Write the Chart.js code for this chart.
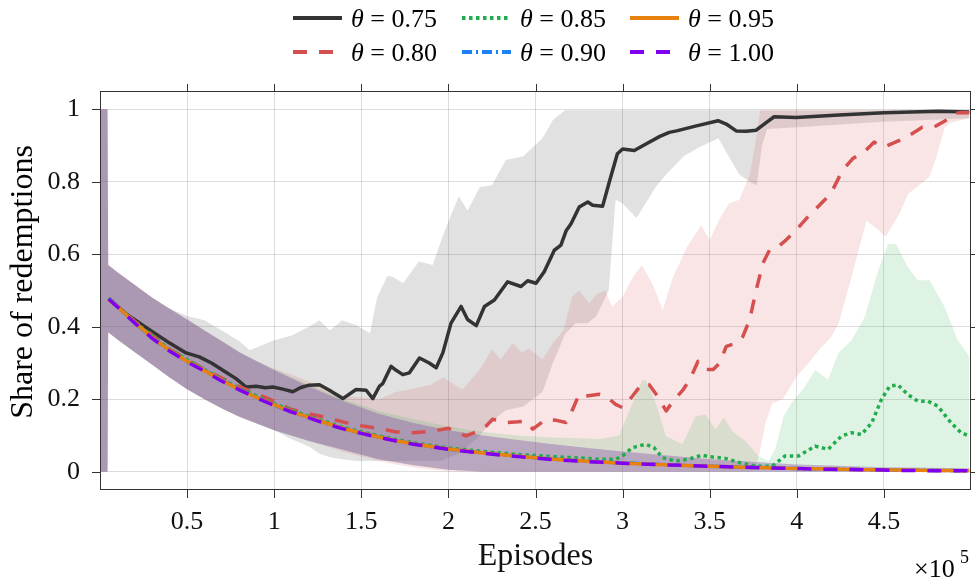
<!DOCTYPE html>
<html>
<head>
<meta charset="utf-8">
<script src="https://cdn.jsdelivr.net/npm/chart.js@4.4.1/dist/chart.umd.min.js"></script>
<style>
  html, body { margin: 0; padding: 0; background: #fff; }
  #wrap { width: 975px; height: 580px; }
</style>
</head>
<body>
<div id="wrap"><canvas id="chart" width="975" height="580"></canvas></div>
<script>
// x values are in units of 1e5 episodes (the axis carries the x10^5 factor)
const xTicks = [0.5, 1, 1.5, 2, 2.5, 3, 3.5, 4, 4.5];
const yTicks = [0, 0.2, 0.4, 0.6, 0.8, 1];

// mean curves
const ep075 = [0.05, 0.15, 0.275, 0.4, 0.494, 0.57, 0.64, 0.705, 0.781, 0.839, 0.897, 0.95, 0.992, 1.05, 1.107, 1.15, 1.2, 1.26, 1.317, 1.394,
  1.47, 1.528, 1.566, 1.604, 1.624, 1.671, 1.7, 1.738, 1.776, 1.834, 1.89, 1.93, 1.968, 2.015, 2.073, 2.11, 2.16, 2.207, 2.264, 2.34,
  2.417, 2.455, 2.503, 2.55, 2.608, 2.646, 2.676, 2.704, 2.751, 2.8, 2.828, 2.885, 2.924, 2.97, 3.0, 3.067, 3.134, 3.214, 3.268, 3.31,
  3.424, 3.548, 3.595, 3.652, 3.71, 3.767, 3.824, 3.87, 3.995, 4.243, 4.5, 4.814, 4.99];
const share075 = [0.478, 0.435, 0.395, 0.355, 0.328, 0.317, 0.3, 0.28, 0.257, 0.234, 0.236, 0.232, 0.234, 0.228, 0.221, 0.232, 0.239, 0.24, 0.225, 0.202,
  0.227, 0.225, 0.202, 0.236, 0.244, 0.291, 0.28, 0.268, 0.273, 0.314, 0.3, 0.287, 0.328, 0.41, 0.456, 0.42, 0.403, 0.456, 0.474, 0.524,
  0.511, 0.527, 0.52, 0.552, 0.611, 0.625, 0.665, 0.684, 0.73, 0.744, 0.735, 0.732, 0.8, 0.877, 0.89, 0.886, 0.904, 0.925, 0.936, 0.94,
  0.954, 0.968, 0.959, 0.94, 0.939, 0.942, 0.963, 0.979, 0.977, 0.984, 0.99, 0.994, 0.992];

const ep080 = [0.05, 0.2, 0.4, 0.6, 0.8, 1.0, 1.1, 1.2, 1.3, 1.4, 1.5, 1.6, 1.7, 1.8, 1.9, 2.0, 2.1, 2.2, 2.254, 2.33,
  2.4, 2.445, 2.484, 2.56, 2.62, 2.675, 2.713, 2.751, 2.79, 2.866, 2.904, 2.96, 3.0, 3.057, 3.115, 3.153, 3.2, 3.25, 3.29, 3.348,
  3.386, 3.433, 3.48, 3.52, 3.557, 3.595, 3.652, 3.69, 3.729, 3.767, 3.805, 3.843, 3.88, 3.938, 3.995, 4.071, 4.138, 4.195, 4.262, 4.32,
  4.395, 4.443, 4.5, 4.586, 4.643, 4.72, 4.786, 4.852, 4.9, 4.948, 4.99];
const share080 = [0.478, 0.415, 0.338, 0.282, 0.235, 0.195, 0.172, 0.16, 0.15, 0.137, 0.127, 0.12, 0.11, 0.108, 0.112, 0.12, 0.099, 0.118, 0.145, 0.136,
  0.138, 0.14, 0.118, 0.145, 0.142, 0.136, 0.172, 0.214, 0.209, 0.214, 0.209, 0.186, 0.177, 0.209, 0.245, 0.24, 0.209, 0.168, 0.195, 0.227,
  0.254, 0.305, 0.282, 0.282, 0.3, 0.346, 0.355, 0.373, 0.419, 0.501, 0.575, 0.611, 0.616, 0.639, 0.666, 0.707, 0.739, 0.767, 0.831, 0.863,
  0.886, 0.909, 0.895, 0.913, 0.927, 0.95, 0.95, 0.968, 0.988, 0.991, 0.99];

const ep085 = [0.05, 0.2, 0.4, 0.6, 0.8, 1.0, 1.2, 1.4, 1.6, 1.8, 2.0, 2.2, 2.4, 2.6, 2.8, 2.867, 2.962, 3.0, 3.057, 3.133,
  3.18, 3.229, 3.305, 3.38, 3.457, 3.495, 3.59, 3.667, 3.762, 3.857, 3.933, 4.01, 4.105, 4.18, 4.257, 4.314, 4.371, 4.43, 4.486, 4.533,
  4.58, 4.638, 4.695, 4.752, 4.81, 4.886, 4.943, 4.99];
const share085 = [0.478, 0.413, 0.337, 0.282, 0.23, 0.188, 0.153, 0.122, 0.099, 0.08, 0.066, 0.056, 0.048, 0.042, 0.037, 0.035, 0.035, 0.044, 0.067, 0.076,
  0.067, 0.039, 0.03, 0.035, 0.046, 0.042, 0.037, 0.026, 0.016, 0.015, 0.044, 0.044, 0.071, 0.062, 0.099, 0.108, 0.103, 0.135, 0.2, 0.236,
  0.24, 0.213, 0.195, 0.195, 0.181, 0.135, 0.108, 0.099];

const epLate = [0.05, 0.1, 0.2, 0.3, 0.4, 0.5, 0.6, 0.7, 0.8, 0.9, 1.0, 1.1, 1.2, 1.3, 1.4, 1.5, 1.6, 1.7, 1.8, 1.9,
  2.0, 2.2, 2.4, 2.6, 2.8, 3.0, 3.2, 3.4, 3.6, 3.8, 4.0, 4.2, 4.4, 4.6, 4.8, 4.99];
const share090 = [0.477, 0.457, 0.411, 0.369, 0.334, 0.304, 0.28, 0.252, 0.228, 0.205, 0.184, 0.166, 0.15, 0.133, 0.119, 0.107, 0.096, 0.086, 0.077, 0.07,
  0.063, 0.052, 0.043, 0.035, 0.029, 0.025, 0.021, 0.017, 0.014, 0.012, 0.009, 0.008, 0.006, 0.005, 0.004, 0.003];
const share095 = [0.474, 0.456, 0.412, 0.37, 0.335, 0.305, 0.279, 0.252, 0.227, 0.205, 0.185, 0.166, 0.15, 0.134, 0.119, 0.107, 0.096, 0.086, 0.077, 0.07,
  0.063, 0.052, 0.043, 0.035, 0.029, 0.024, 0.02, 0.017, 0.014, 0.011, 0.009, 0.008, 0.006, 0.005, 0.004, 0.003];
const share100 = [0.476, 0.455, 0.41, 0.368, 0.333, 0.303, 0.278, 0.25, 0.226, 0.204, 0.183, 0.165, 0.149, 0.132, 0.118, 0.106, 0.095, 0.085, 0.076, 0.069,
  0.062, 0.051, 0.042, 0.034, 0.028, 0.024, 0.02, 0.017, 0.014, 0.011, 0.009, 0.007, 0.006, 0.004, 0.003, 0.003];

// shaded spread around each mean
const band075X = [0, 0.043, 0.047, 0.1, 0.2, 0.3, 0.4, 0.5, 0.6, 0.7, 0.8, 0.86, 0.93, 1.0, 1.1, 1.2, 1.26, 1.32, 1.39, 1.47,
  1.55, 1.59, 1.65, 1.68, 1.74, 1.83, 1.91, 1.96, 2.0, 2.06, 2.11, 2.18, 2.25, 2.33, 2.43, 2.54, 2.6, 2.67, 2.73, 2.8,
  2.85, 2.92, 2.96, 3.0, 3.08, 3.19, 3.25, 3.35, 3.44, 3.55, 3.6, 3.67, 3.73, 3.77, 3.8, 3.83, 4.0, 4.5, 4.99];
const band075Hi = [1, 1, 0.57, 0.55, 0.515, 0.48, 0.45, 0.43, 0.418, 0.39, 0.36, 0.335, 0.349, 0.363, 0.376, 0.4, 0.418, 0.39, 0.418, 0.405,
  0.382, 0.48, 0.54, 0.538, 0.52, 0.58, 0.57, 0.64, 0.69, 0.76, 0.72, 0.785, 0.79, 0.86, 0.87, 0.92, 0.97, 0.997, 0.997, 0.997,
  0.997, 0.997, 0.997, 0.997, 0.997, 0.997, 0.997, 0.997, 0.997, 0.997, 0.997, 0.997, 0.997, 0.997, 0.997, 0.997, 0.997, 0.997, 0.997];
const band075Lo = [0, 0, 0.385, 0.365, 0.33, 0.295, 0.26, 0.228, 0.2, 0.175, 0.152, 0.14, 0.128, 0.115, 0.09, 0.07, 0.05, 0.04, 0.035, 0.03,
  0.03, 0.03, 0.03, 0.03, 0.03, 0.03, 0.03, 0.03, 0.04, 0.05, 0.07, 0.1, 0.14, 0.17, 0.18, 0.22, 0.3, 0.38, 0.41, 0.41,
  0.43, 0.5, 0.75, 0.74, 0.7, 0.785, 0.82, 0.87, 0.895, 0.92, 0.877, 0.82, 0.8, 0.79, 0.9, 0.945, 0.95, 0.965, 0.975];

const band080X = [0, 0.043, 0.047, 0.1, 0.2, 0.3, 0.4, 0.5, 0.6, 0.7, 0.8, 0.9, 1.0, 1.2, 1.4, 1.6, 1.7, 1.8, 1.9, 1.97,
  2.08, 2.18, 2.25, 2.3, 2.37, 2.42, 2.46, 2.54, 2.6, 2.66, 2.71, 2.75, 2.81, 2.85, 2.9, 2.94, 3.0, 3.06, 3.11, 3.17,
  3.23, 3.29, 3.37, 3.45, 3.5, 3.56, 3.61, 3.67, 3.73, 3.76, 3.79, 3.82, 3.86, 3.92, 4.0, 4.05, 4.13, 4.2, 4.24, 4.32,
  4.4, 4.47, 4.51, 4.59, 4.64, 4.76, 4.8, 4.85, 4.88, 4.99];
const band080Hi = [1, 1, 0.57, 0.55, 0.515, 0.48, 0.45, 0.42, 0.39, 0.36, 0.33, 0.305, 0.285, 0.25, 0.21, 0.2, 0.22, 0.23, 0.24, 0.26,
  0.227, 0.282, 0.337, 0.31, 0.355, 0.33, 0.34, 0.31, 0.355, 0.39, 0.483, 0.5, 0.465, 0.49, 0.5, 0.456, 0.483, 0.538, 0.57, 0.52,
  0.447, 0.538, 0.62, 0.68, 0.64, 0.7, 0.74, 0.75, 0.82, 0.9, 0.997, 0.997, 0.997, 0.997, 0.997, 0.997, 0.997, 0.997, 0.997, 0.997,
  0.997, 0.997, 0.997, 0.997, 0.997, 0.997, 0.997, 0.997, 0.997, 0.997];
const band080Lo = [0, 0, 0.385, 0.365, 0.33, 0.295, 0.26, 0.228, 0.2, 0.175, 0.152, 0.133, 0.115, 0.085, 0.055, 0.03, 0.02, 0.012, 0.006, 0.003,
  0, 0, 0, 0, 0, 0, 0, 0, 0, 0, 0, 0, 0, 0, 0, 0, 0, 0, 0, 0,
  0, 0, 0, 0, 0, 0, 0, 0, 0, 0.005, 0.06, 0.135, 0.19, 0.2, 0.264, 0.29, 0.337, 0.373, 0.41, 0.547,
  0.693, 0.666, 0.648, 0.712, 0.767, 0.812, 0.867, 0.95, 0.962, 0.975];

const band085X = [0, 0.043, 0.047, 0.1, 0.2, 0.3, 0.4, 0.5, 0.6, 0.7, 0.8, 0.9, 1.0, 1.2, 1.4, 1.6, 1.8, 2.0, 2.2, 2.4,
  2.6, 2.8, 2.867, 2.98, 3.057, 3.11, 3.133, 3.19, 3.248, 3.343, 3.42, 3.476, 3.533, 3.58, 3.63, 3.705, 3.78, 3.838, 3.876, 3.924,
  3.97, 4.048, 4.105, 4.18, 4.238, 4.314, 4.39, 4.467, 4.524, 4.57, 4.638, 4.695, 4.762, 4.848, 4.924, 4.99];
const band085Hi = [1, 1, 0.57, 0.55, 0.515, 0.48, 0.45, 0.42, 0.39, 0.36, 0.33, 0.305, 0.282, 0.24, 0.2, 0.168, 0.145, 0.125, 0.11, 0.1,
  0.095, 0.092, 0.09, 0.1, 0.19, 0.25, 0.254, 0.19, 0.099, 0.076, 0.153, 0.158, 0.117, 0.149, 0.112, 0.085, 0.044, 0.03, 0.062, 0.153,
  0.19, 0.236, 0.281, 0.254, 0.327, 0.363, 0.427, 0.555, 0.628, 0.628, 0.564, 0.528, 0.528, 0.455, 0.363, 0.318];
const band085Lo = [0, 0, 0.385, 0.365, 0.33, 0.295, 0.26, 0.228, 0.2, 0.175, 0.152, 0.133, 0.115, 0.085, 0.06, 0.035, 0.018, 0.006, 0, 0,
  0, 0, 0, 0, 0, 0, 0, 0, 0, 0, 0, 0, 0, 0, 0, 0, 0, 0, 0, 0,
  0, 0, 0, 0, 0, 0, 0, 0, 0, 0, 0, 0, 0, 0, 0, 0];

// 0.90, 0.95 and 1.00 share practically the same spread
const bandLateX = [0, 0.043, 0.047, 0.1, 0.2, 0.3, 0.4, 0.5, 0.6, 0.7, 0.8, 0.9, 1.0, 1.2, 1.4, 1.6, 1.8, 2.0, 2.2, 2.4,
  2.6, 2.8, 3.0, 3.5, 4.0, 4.5, 4.99];
const bandLateHi = [1, 1, 0.57, 0.55, 0.515, 0.48, 0.45, 0.42, 0.39, 0.36, 0.33, 0.305, 0.28, 0.235, 0.195, 0.16, 0.135, 0.115, 0.1, 0.088,
  0.076, 0.066, 0.056, 0.035, 0.02, 0.013, 0.01];
const bandLateLo = [0, 0, 0.385, 0.365, 0.33, 0.295, 0.26, 0.228, 0.2, 0.175, 0.152, 0.133, 0.115, 0.085, 0.06, 0.035, 0.018, 0.006, 0, 0,
  0, 0, 0, 0, 0, 0, 0];

const serif = '"Liberation Serif", "Times New Roman", serif';

const lineSeries = [
  {label: '0.75', xs: ep075, ys: share075, color: '#333333', dash: [], fill: 'rgba(51,51,51,0.15)', bx: band075X, lo: band075Lo, hi: band075Hi},
  {label: '0.80', xs: ep080, ys: share080, color: '#d64f4f', dash: [14, 12], fill: 'rgba(214,79,79,0.15)', bx: band080X, lo: band080Lo, hi: band080Hi},
  {label: '0.85', xs: ep085, ys: share085, color: '#21ad4c', dash: [3.5, 3.5], fill: 'rgba(33,173,76,0.15)', bx: band085X, lo: band085Lo, hi: band085Hi},
  {label: '0.90', xs: epLate, ys: share090, color: '#1a82f5', dash: [10, 4, 2, 4], fill: 'rgba(26,130,245,0.15)', bx: bandLateX, lo: bandLateLo, hi: bandLateHi},
  {label: '0.95', xs: epLate, ys: share095, color: '#e8820e', dash: [], fill: 'rgba(232,130,14,0.15)', bx: bandLateX, lo: bandLateLo, hi: bandLateHi},
  {label: '1.00', xs: epLate, ys: share100, color: '#7f00f0', dash: [14, 12], fill: 'rgba(127,0,240,0.15)', bx: bandLateX, lo: bandLateLo, hi: bandLateHi}
];

function pts(xs, ys) {
  return xs.map((x, i) => ({x: x, y: ys[i]}));
}

const datasets = [];
lineSeries.forEach((s, i) => {
  const loIndex = datasets.length;
  datasets.push({
    data: pts(s.bx, s.lo),
    borderColor: 'rgba(0,0,0,0)',
    borderWidth: 0,
    pointRadius: 0,
    fill: false,
    order: 20 - i
  });
  datasets.push({
    data: pts(s.bx, s.hi),
    borderColor: 'rgba(0,0,0,0)',
    borderWidth: 0,
    pointRadius: 0,
    fill: {target: loIndex, above: s.fill, below: s.fill},
    order: 20 - i
  });
});
lineSeries.forEach((s, i) => {
  datasets.push({
    label: s.label,
    data: pts(s.xs, s.ys),
    borderColor: s.color,
    borderWidth: 3.5,
    borderDash: s.dash,
    borderJoinStyle: 'round',
    pointRadius: 0,
    fill: false,
    order: 6 - i
  });
});

const decorations = {
  id: 'decorations',
  afterDraw(chart) {
    const ctx = chart.ctx;
    const area = chart.chartArea;
    const sx = chart.scales.x, sy = chart.scales.y;
    ctx.save();

    // axes box and outward ticks on all four sides
    ctx.strokeStyle = '#333333';
    ctx.lineWidth = 1;
    ctx.setLineDash([]);
    ctx.strokeRect(area.left + 0.5, area.top + 0.5, area.right - area.left - 1, area.bottom - area.top - 1);
    ctx.beginPath();
    xTicks.forEach(v => {
      const px = Math.round(sx.getPixelForValue(v)) + 0.5;
      ctx.moveTo(px, area.bottom);
      ctx.lineTo(px, area.bottom + 8);
      ctx.moveTo(px, area.top);
      ctx.lineTo(px, area.top - 7);
    });
    yTicks.forEach(v => {
      const py = Math.round(sy.getPixelForValue(v)) + 0.5;
      ctx.moveTo(area.left, py);
      ctx.lineTo(area.left - 8, py);
      ctx.moveTo(area.right, py);
      ctx.lineTo(area.right + 7, py);
    });
    ctx.stroke();

    ctx.fillStyle = '#000';
    // y title
    ctx.save();
    ctx.translate(24, 282);
    ctx.rotate(-Math.PI / 2);
    ctx.font = '32px ' + serif;
    ctx.textAlign = 'center';
    ctx.textBaseline = 'middle';
    ctx.fillText('Share of redemptions', 0, 0);
    ctx.restore();

    // exponent of the x axis
    ctx.textAlign = 'left';
    ctx.textBaseline = 'alphabetic';
    ctx.font = '26px ' + serif;
    ctx.fillText('\u00d710', 914, 577);
    ctx.font = '18px ' + serif;
    ctx.fillText('5', 960, 563);

    // legend, 3 columns x 2 rows
    const colX = [293, 462, 630];
    const rowY = [18, 52];
    lineSeries.forEach((s, i) => {
      const x0 = colX[Math.floor(i / 2)];
      const y0 = rowY[i % 2];
      ctx.strokeStyle = s.color;
      ctx.lineWidth = 4;
      ctx.setLineDash(s.dash);
      ctx.beginPath();
      ctx.moveTo(x0, y0);
      ctx.lineTo(x0 + 49, y0);
      ctx.stroke();
      ctx.setLineDash([]);
      ctx.textBaseline = 'middle';
      ctx.font = 'italic 26px ' + serif;
      ctx.fillText('\u03b8', x0 + 58, y0 + 2);
      const w = ctx.measureText('\u03b8').width;
      ctx.font = '26px ' + serif;
      ctx.fillText(' = ' + s.label, x0 + 58 + w, y0 + 2);
    });
    ctx.restore();
  }
};

new Chart(document.getElementById('chart').getContext('2d'), {
  type: 'line',
  data: {datasets: datasets},
  options: {
    responsive: false,
    animation: false,
    devicePixelRatio: 1,
    events: [],
    layout: {padding: {top: 91, right: 4, left: 0, bottom: 0}},
    scales: {
      x: {
        type: 'linear',
        min: 0,
        max: 5,
        afterFit: s => { s.height = 90; },
        afterBuildTicks: s => { s.ticks = xTicks.map(v => ({value: v})); },
        grid: {color: 'rgba(38,38,38,0.16)', lineWidth: 1, drawTicks: false},
        border: {display: false},
        ticks: {
          padding: 17,
          color: '#111',
          font: {family: serif, size: 26},
          maxRotation: 0,
          callback: v => String(v)
        },
        title: {display: true, text: 'Episodes', color: '#111', font: {family: serif, size: 32}, padding: {top: 0, bottom: 4}}
      },
      y: {
        min: -0.05,
        max: 1.05,
        afterFit: s => { s.width = 100; },
        afterBuildTicks: s => { s.ticks = yTicks.map(v => ({value: v})); },
        grid: {color: 'rgba(38,38,38,0.16)', lineWidth: 1, drawTicks: false},
        border: {display: false},
        ticks: {
          padding: 20,
          color: '#111',
          font: {family: serif, size: 26},
          callback: v => String(v)
        }
      }
    },
    plugins: {
      legend: {display: false},
      tooltip: {enabled: false},
      filler: {drawTime: 'beforeDatasetsDraw'}
    }
  },
  plugins: [decorations]
});
</script>
